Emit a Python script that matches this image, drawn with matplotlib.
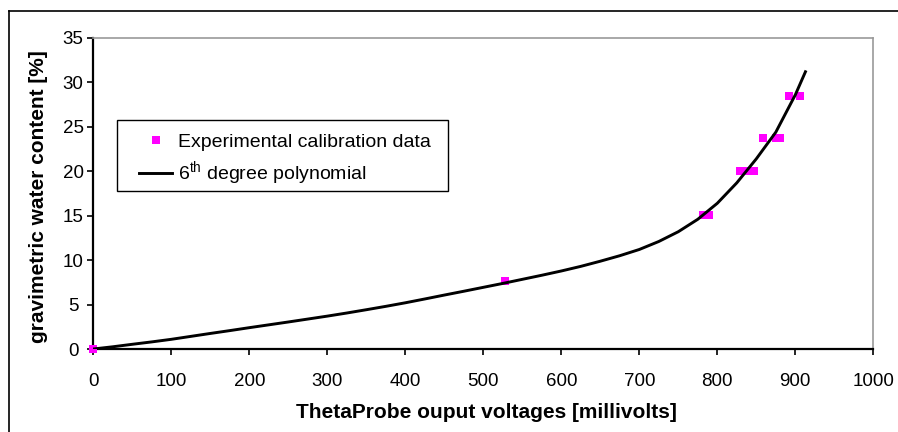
import matplotlib
matplotlib.use("Agg")
import matplotlib.pyplot as plt
from matplotlib.lines import Line2D
from matplotlib.patches import Rectangle

plt.rcParams['font.family'] = ['Liberation Sans', 'DejaVu Sans']

# Experimental calibration data
exp_x = [0, 528, 782, 789, 829, 838, 847, 859, 875, 881, 892, 906]
exp_y = [0, 7.6, 15.1, 15.1, 20.0, 20.0, 20.0, 23.8, 23.8, 23.8, 28.5, 28.5]

# 6th degree polynomial curve
poly_x = [0, 25, 50, 75, 100, 125, 150, 175, 200, 225, 250, 275, 300, 325,
          350, 375, 400, 425, 450, 475, 500, 525, 550, 575, 600, 625, 650,
          675, 700, 725, 750, 775, 800, 825, 850, 875, 900, 913]
poly_y = [0, 0.25, 0.53, 0.8, 1.09, 1.42, 1.75, 2.07, 2.4, 2.72, 3.04, 3.37,
          3.7, 4.05, 4.42, 4.8, 5.2, 5.63, 6.07, 6.5, 6.94, 7.38, 7.84, 8.3,
          8.78, 9.3, 9.88, 10.5, 11.2, 12.1, 13.2, 14.6, 16.4, 18.7, 21.4,
          24.4, 28.6, 31.2]

x_ticks = [0, 100, 200, 300, 400, 500, 600, 700, 800, 900, 1000]
y_ticks = [0, 5, 10, 15, 20, 25, 30, 35]

W, H = 898, 432
fig = plt.figure(figsize=(W / 100, H / 100), dpi=100)
fig.patch.set_facecolor('white')

# outer chart border (left and top visible)
fig.add_artist(Line2D([9.3 / W, 9.3 / W], [0, 1 - 11 / H], color='black', lw=1.2))
fig.add_artist(Line2D([9.3 / W, 1], [1 - 11 / H, 1 - 11 / H], color='black', lw=1.2))

ax_l, ax_r, ax_t, ax_b = 93.3, 873.3, 38, 349
ax = fig.add_axes([ax_l / W, 1 - ax_b / H, (ax_r - ax_l) / W, (ax_b - ax_t) / H])

ax.plot(exp_x, exp_y, linestyle='none', marker='s', markersize=5.8,
        color='#FF00FF', markeredgewidth=0, label='Experimental calibration data',
        zorder=3, clip_on=False)
ax.plot(poly_x, poly_y, color='black', lw=2.1, solid_joinstyle='round',
        label=r'6$^{\mathregular{th}}$ degree polynomial', zorder=4)

ax.set_xlim(0, 1000)
ax.set_ylim(0, 35)
ax.set_xticks(x_ticks)
ax.set_yticks(y_ticks)
ax.tick_params(axis='both', direction='out', length=4, width=1.2, labelsize=13.5)
ax.tick_params(axis='x', pad=13.5)
ax.tick_params(axis='y', pad=10.6)
for lab in ax.get_yticklabels():
    lab.set_horizontalalignment('center')

for s in ['left', 'bottom']:
    ax.spines[s].set_color('black')
    ax.spines[s].set_linewidth(1.6)
for s in ['top', 'right']:
    ax.spines[s].set_color('#999999')
    ax.spines[s].set_linewidth(1.2)

ax.set_xlabel('ThetaProbe ouput voltages [millivolts]', fontsize=15,
              fontweight='bold')
ax.xaxis.set_label_coords((486 - ax_l) / (ax_r - ax_l), (ax_b - 412) / (ax_b - ax_t))
ax.xaxis.label.set_va('center')
ax.set_ylabel('gravimetric water content [%]', fontsize=15, fontweight='bold')
ax.yaxis.set_label_coords((39 - ax_l) / (ax_r - ax_l), 0.49)
ax.yaxis.label.set_va('center')

# legend frame drawn at its place in the picture
leg_x0, leg_y0, leg_x1, leg_y1 = 117.3, 120, 448.3, 191
fig.add_artist(Rectangle((leg_x0 / W, 1 - leg_y1 / H), (leg_x1 - leg_x0) / W,
                         (leg_y1 - leg_y0) / H, transform=fig.transFigure,
                         facecolor='white', edgecolor='black', lw=1.0, zorder=4))
leg = fig.legend(handles=ax.get_lines(), loc='center left',
                 bbox_to_anchor=(139.3 / W, 1 - 160.5 / H),
                 borderaxespad=0, borderpad=0, frameon=False, fontsize=14,
                 handlelength=1.67, handletextpad=0.34, labelspacing=0.42)
leg.set_zorder(5)

fig.savefig('out.png', dpi=100, facecolor='white')
